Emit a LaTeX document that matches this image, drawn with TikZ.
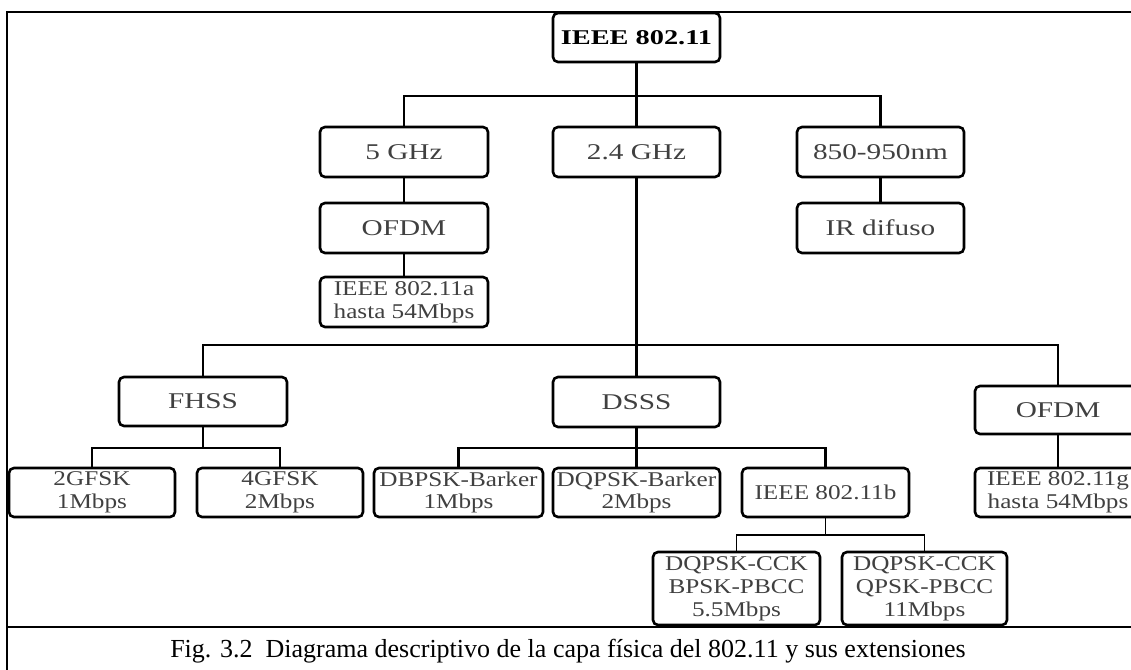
\documentclass[tikz,border=0pt]{standalone}
\usepackage{fontspec}
\setmainfont{Liberation Serif}
\newfontfamily\topfont[FakeStretch=1.3]{Liberation Serif}
\newfontfamily\lowfont[FakeStretch=1.2]{Liberation Serif}
\newfontfamily\rootfont[FakeStretch=1.35]{Liberation Serif}
\begin{document}
\begin{tikzpicture}[x=1pt,y=-1pt,
  box/.style={draw, rounded corners=5pt, line width=2.6pt, inner sep=0pt,
    align=center, text=black!75},
  topbox/.style={box, font=\topfont\fontsize{22.5}{24}\selectfont},
  lowbox/.style={box, font=\lowfont\fontsize{21}{22.8}\selectfont},
  rootbox/.style={box, text=black, font=\rootfont\bfseries\fontsize{21}{23}\selectfont},
  wire/.style={line width=2.4pt},
  thinwire/.style={line width=1.2pt},
  midwire/.style={line width=1.7pt}]
\useasboundingbox (0,0) rectangle (1131,669);
\clip (0,0) rectangle (1131,669);

% outer frame and caption rule
\draw[line width=2.6pt] (7,12) rectangle (1140,680);
\draw[line width=2.6pt] (7,627) -- (1140,627);
\node[font=\fontsize{26}{28}\selectfont] (cap) at (568,651)
  {Fig. 3.2\ \ Diagrama descriptivo de la capa física del 802.11 y sus extensiones};

% root and frequency bands
\node[rootbox, minimum width=167pt, minimum height=49pt] (root) at (636.5,37.5) {IEEE 802.11};
\node[topbox, minimum width=168pt, minimum height=50pt] (g5)  at (404,152)   {5 GHz};
\node[topbox, minimum width=167pt, minimum height=50pt] (g24) at (636.5,152) {2.4 GHz};
\node[topbox, minimum width=167pt, minimum height=50pt] (nm)  at (880.5,152) {850-950nm};

\node[topbox, minimum width=168pt, minimum height=50pt] (ofdmA) at (404,228)   {OFDM};
\node[topbox, minimum width=167pt, minimum height=50pt] (irdif) at (880.5,228) {IR difuso};
\node[lowbox, minimum width=168pt, minimum height=50pt] (ieeea) at (404,302)   {IEEE 802.11a\\hasta 54Mbps};

% 2.4 GHz techniques
\node[topbox, minimum width=168pt, minimum height=49pt] (fhss)  at (203,401.5)  {FHSS};
\node[topbox, minimum width=167pt, minimum height=50pt] (dsss)  at (636.5,402)  {DSSS};
\node[topbox, minimum width=166pt, minimum height=48pt] (ofdmG) at (1058,410)   {OFDM};

\node[lowbox, minimum width=166pt, minimum height=49pt] (g2fsk) at (92,492.5)    {2GFSK\\1Mbps};
\node[lowbox, minimum width=166pt, minimum height=49pt] (g4fsk) at (280,492.5)   {4GFSK\\2Mbps};
\node[lowbox, minimum width=169pt, minimum height=49pt] (dbpsk) at (458.5,492.5) {DBPSK-Barker\\1Mbps};
\node[lowbox, minimum width=167pt, minimum height=49pt] (dqpsk) at (636.5,492.5) {DQPSK-Barker\\2Mbps};
\node[lowbox, minimum width=167pt, minimum height=49pt] (ieeeb) at (825.5,492.5) {IEEE 802.11b};
\node[lowbox, minimum width=166pt, minimum height=49pt] (ieeeg) at (1058,492.5)  {IEEE 802.11g\\hasta 54Mbps};

\node[lowbox, minimum width=167pt, minimum height=73pt] (cck1) at (736.5,588.5) {DQPSK-CCK\\BPSK-PBCC\\5.5Mbps};
\node[lowbox, minimum width=165pt, minimum height=73pt] (cck2) at (924.5,588.5) {DQPSK-CCK\\QPSK-PBCC\\11Mbps};

% junction points of the tree
\coordinate (j1) at (636.5,96);
\coordinate (j2) at (636.5,345);
\coordinate (j3) at (203,448);
\coordinate (j4) at (636.5,448);
\coordinate (j5) at (825.5,535);

% connectors
\draw[wire] (root.south) -- (j1);
\draw[wire] (g5.north) |- (j1) -| (nm.north);
\draw[wire] (j1) -- (g24.north);
\draw[wire] (g5.south) -- (ofdmA.north);
\draw[wire] (ofdmA.south) -- (ieeea.north);
\draw[wire] (nm.south) -- (irdif.north);

\draw[wire] (g24.south) -- (dsss.north);
\draw[wire] (fhss.north) |- (j2);
\draw[thinwire] (j2) -| (ofdmG.north);
\draw[thinwire] (ofdmG.south) -- (ieeeg.north);

\draw[midwire] (fhss.south) -- (j3);
\draw[wire] (g2fsk.north) |- (j3) -| (g4fsk.north);

\draw[wire] (dsss.south) -- (dqpsk.north);
\draw[wire] (dbpsk.north) |- (j4) -| (ieeeb.north);

\draw[midwire] (ieeeb.south) -- (j5);
\draw[midwire] (cck1.north) |- (j5) -| (cck2.north);
\end{tikzpicture}
\end{document}
